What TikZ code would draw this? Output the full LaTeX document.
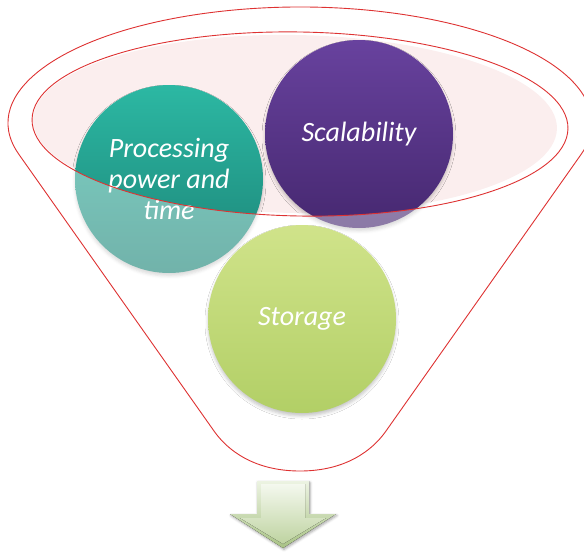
\documentclass[tikz,border=0pt]{standalone}
\usepackage{fontspec}
\setsansfont{Carlito}
\usetikzlibrary{shadows.blur}

\definecolor{funnelred}{RGB}{222,50,50}
\definecolor{mouthpink}{RGB}{251,238,238}
\definecolor{tealtop}{RGB}{44,184,163}
\definecolor{tealbot}{RGB}{28,132,119}
\definecolor{purptop}{RGB}{104,66,158}
\definecolor{purpbot}{RGB}{70,40,112}
\definecolor{greentop}{RGB}{208,227,138}
\definecolor{greenbot}{RGB}{178,207,102}
\definecolor{arrowtop}{RGB}{236,243,226}
\definecolor{arrowbot}{RGB}{168,194,132}
\definecolor{facetop}{RGB}{244,248,238}
\definecolor{facebot}{RGB}{190,211,160}

\tikzset{
  ball/.style={circle, minimum size=188pt, inner sep=0pt, text=white, align=center,
    font=\sffamily\itshape\fontsize{28}{31}\selectfont,
    blur shadow={shadow xshift=0pt, shadow yshift=-3pt, shadow blur radius=3pt, shadow opacity=22}},
  outline/.style={draw=funnelred, line width=0.9pt},
}

\begin{document}
\begin{tikzpicture}[x=1pt, y=-1pt]
\useasboundingbox (0,0) rectangle (584,552);

% pink mouth of the funnel
\fill[mouthpink, rotate around={-1:(295,124)}] (295,124) ellipse [x radius=262, y radius=89];

% balls sitting in the mouth
\node[ball, top color=tealtop, bottom color=tealbot] (proc) at (169,179) {Processing\\power and\\time};
\node[ball, top color=purptop, bottom color=purpbot] (scal) at (359,134) {Scalability};

% translucent funnel body washes out everything below the mouth
\fill[white, opacity=0.38, even odd rule]
  (300,123) ++(164.4:292 and 116)
  arc[start angle=164.4, end angle=375.6, x radius=292, y radius=116]
  -- (386,431) .. controls (372,451) and (345,471) .. (300,471)
  .. controls (255,471) and (228,451) .. (214,431) -- cycle
  {[rotate around={-1:(300,124)}] (300,124) ellipse [x radius=268, y radius=92]};

% ball inside the funnel body
\node[ball, top color=greentop, bottom color=greenbot] (stor) at (302,319) {Storage};

% funnel outlines
\draw[outline]
  (300,123) ++(164.4:292 and 116)
  arc[start angle=164.4, end angle=375.6, x radius=292, y radius=116]
  -- (386,431) .. controls (372,451) and (345,471) .. (300,471)
  .. controls (255,471) and (228,451) .. (214,431) -- cycle;
\draw[outline, rotate around={-1:(300,124)}] (300,124) ellipse [x radius=268, y radius=92];

% output arrow: bevelled body and a lighter face
\fill[top color=arrowtop, bottom color=arrowbot,
      blur shadow={shadow xshift=1pt, shadow yshift=-1.5pt, shadow blur radius=2.5pt, shadow opacity=35}]
  (257,481) -- (309,481) -- (309,514) -- (336,514) -- (283,548) -- (230,514) -- (257,514) -- cycle;
\fill[top color=facetop, bottom color=facebot]
  (261,484) -- (305,484) -- (305,518) -- (326,518) -- (283,544) -- (240,518) -- (261,518) -- cycle;
\end{tikzpicture}
\end{document}
